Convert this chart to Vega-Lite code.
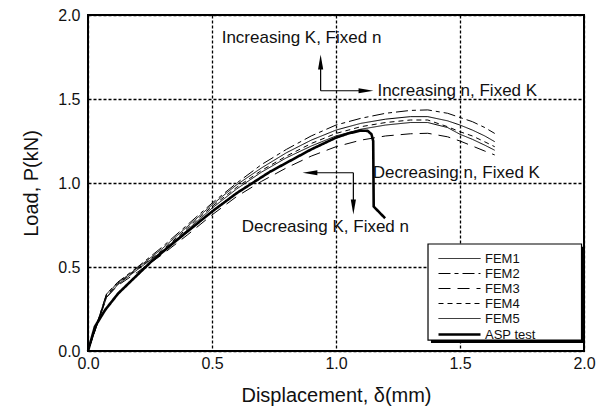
{
  "$schema": "https://vega.github.io/schema/vega-lite/v6.json",
  "width": 496,
  "height": 336,
  "autosize": "none",
  "padding": {"left": 88, "top": 15, "right": 21, "bottom": 66},
  "background": "white",
  "datasets": {
    "curves": [
      {"series": "FEM2", "i": 0, "x": 0, "y": 0},
      {"series": "FEM2", "i": 1, "x": 0.075, "y": 0.34},
      {"series": "FEM2", "i": 2, "x": 0.12, "y": 0.41},
      {"series": "FEM2", "i": 3, "x": 0.2, "y": 0.5},
      {"series": "FEM2", "i": 4, "x": 0.3, "y": 0.62},
      {"series": "FEM2", "i": 5, "x": 0.4, "y": 0.75},
      {"series": "FEM2", "i": 6, "x": 0.5, "y": 0.88},
      {"series": "FEM2", "i": 7, "x": 0.6, "y": 1.0},
      {"series": "FEM2", "i": 8, "x": 0.7, "y": 1.11},
      {"series": "FEM2", "i": 9, "x": 0.8, "y": 1.2},
      {"series": "FEM2", "i": 10, "x": 0.9, "y": 1.28},
      {"series": "FEM2", "i": 11, "x": 1.0, "y": 1.345},
      {"series": "FEM2", "i": 12, "x": 1.1, "y": 1.385},
      {"series": "FEM2", "i": 13, "x": 1.2, "y": 1.415},
      {"series": "FEM2", "i": 14, "x": 1.3, "y": 1.432},
      {"series": "FEM2", "i": 15, "x": 1.37, "y": 1.435},
      {"series": "FEM2", "i": 16, "x": 1.45, "y": 1.415},
      {"series": "FEM2", "i": 17, "x": 1.5, "y": 1.39},
      {"series": "FEM2", "i": 18, "x": 1.55, "y": 1.365},
      {"series": "FEM2", "i": 19, "x": 1.6, "y": 1.33},
      {"series": "FEM2", "i": 20, "x": 1.64, "y": 1.295},

      {"series": "FEM1", "i": 0, "x": 0, "y": 0},
      {"series": "FEM1", "i": 1, "x": 0.075, "y": 0.34},
      {"series": "FEM1", "i": 2, "x": 0.12, "y": 0.405},
      {"series": "FEM1", "i": 3, "x": 0.2, "y": 0.495},
      {"series": "FEM1", "i": 4, "x": 0.3, "y": 0.61},
      {"series": "FEM1", "i": 5, "x": 0.4, "y": 0.74},
      {"series": "FEM1", "i": 6, "x": 0.5, "y": 0.87},
      {"series": "FEM1", "i": 7, "x": 0.6, "y": 0.99},
      {"series": "FEM1", "i": 8, "x": 0.7, "y": 1.09},
      {"series": "FEM1", "i": 9, "x": 0.8, "y": 1.18},
      {"series": "FEM1", "i": 10, "x": 0.9, "y": 1.255},
      {"series": "FEM1", "i": 11, "x": 1.0, "y": 1.315},
      {"series": "FEM1", "i": 12, "x": 1.1, "y": 1.355},
      {"series": "FEM1", "i": 13, "x": 1.2, "y": 1.38},
      {"series": "FEM1", "i": 14, "x": 1.3, "y": 1.395},
      {"series": "FEM1", "i": 15, "x": 1.37, "y": 1.395},
      {"series": "FEM1", "i": 16, "x": 1.45, "y": 1.37},
      {"series": "FEM1", "i": 17, "x": 1.5, "y": 1.345},
      {"series": "FEM1", "i": 18, "x": 1.55, "y": 1.315},
      {"series": "FEM1", "i": 19, "x": 1.6, "y": 1.28},
      {"series": "FEM1", "i": 20, "x": 1.64, "y": 1.246},

      {"series": "FEM4", "i": 0, "x": 0, "y": 0},
      {"series": "FEM4", "i": 1, "x": 0.075, "y": 0.33},
      {"series": "FEM4", "i": 2, "x": 0.12, "y": 0.4},
      {"series": "FEM4", "i": 3, "x": 0.2, "y": 0.49},
      {"series": "FEM4", "i": 4, "x": 0.3, "y": 0.6},
      {"series": "FEM4", "i": 5, "x": 0.4, "y": 0.73},
      {"series": "FEM4", "i": 6, "x": 0.5, "y": 0.86},
      {"series": "FEM4", "i": 7, "x": 0.6, "y": 0.975},
      {"series": "FEM4", "i": 8, "x": 0.7, "y": 1.075},
      {"series": "FEM4", "i": 9, "x": 0.8, "y": 1.16},
      {"series": "FEM4", "i": 10, "x": 0.9, "y": 1.235},
      {"series": "FEM4", "i": 11, "x": 1.0, "y": 1.295},
      {"series": "FEM4", "i": 12, "x": 1.1, "y": 1.335},
      {"series": "FEM4", "i": 13, "x": 1.2, "y": 1.36},
      {"series": "FEM4", "i": 14, "x": 1.3, "y": 1.375},
      {"series": "FEM4", "i": 15, "x": 1.37, "y": 1.375},
      {"series": "FEM4", "i": 16, "x": 1.45, "y": 1.335},
      {"series": "FEM4", "i": 17, "x": 1.5, "y": 1.305},
      {"series": "FEM4", "i": 18, "x": 1.55, "y": 1.28},
      {"series": "FEM4", "i": 19, "x": 1.6, "y": 1.245},
      {"series": "FEM4", "i": 20, "x": 1.64, "y": 1.216},

      {"series": "FEM5", "i": 0, "x": 0, "y": 0},
      {"series": "FEM5", "i": 1, "x": 0.075, "y": 0.32},
      {"series": "FEM5", "i": 2, "x": 0.12, "y": 0.395},
      {"series": "FEM5", "i": 3, "x": 0.2, "y": 0.485},
      {"series": "FEM5", "i": 4, "x": 0.3, "y": 0.595},
      {"series": "FEM5", "i": 5, "x": 0.4, "y": 0.72},
      {"series": "FEM5", "i": 6, "x": 0.5, "y": 0.85},
      {"series": "FEM5", "i": 7, "x": 0.6, "y": 0.965},
      {"series": "FEM5", "i": 8, "x": 0.7, "y": 1.065},
      {"series": "FEM5", "i": 9, "x": 0.8, "y": 1.15},
      {"series": "FEM5", "i": 10, "x": 0.9, "y": 1.22},
      {"series": "FEM5", "i": 11, "x": 1.0, "y": 1.28},
      {"series": "FEM5", "i": 12, "x": 1.1, "y": 1.32},
      {"series": "FEM5", "i": 13, "x": 1.2, "y": 1.345},
      {"series": "FEM5", "i": 14, "x": 1.3, "y": 1.36},
      {"series": "FEM5", "i": 15, "x": 1.37, "y": 1.36},
      {"series": "FEM5", "i": 16, "x": 1.45, "y": 1.33},
      {"series": "FEM5", "i": 17, "x": 1.5, "y": 1.29},
      {"series": "FEM5", "i": 18, "x": 1.55, "y": 1.26},
      {"series": "FEM5", "i": 19, "x": 1.6, "y": 1.225},
      {"series": "FEM5", "i": 20, "x": 1.64, "y": 1.195},

      {"series": "FEM3", "i": 0, "x": 0, "y": 0},
      {"series": "FEM3", "i": 1, "x": 0.075, "y": 0.32},
      {"series": "FEM3", "i": 2, "x": 0.12, "y": 0.39},
      {"series": "FEM3", "i": 3, "x": 0.2, "y": 0.47},
      {"series": "FEM3", "i": 4, "x": 0.3, "y": 0.575},
      {"series": "FEM3", "i": 5, "x": 0.4, "y": 0.69},
      {"series": "FEM3", "i": 6, "x": 0.5, "y": 0.81},
      {"series": "FEM3", "i": 7, "x": 0.6, "y": 0.92},
      {"series": "FEM3", "i": 8, "x": 0.7, "y": 1.01},
      {"series": "FEM3", "i": 9, "x": 0.8, "y": 1.09},
      {"series": "FEM3", "i": 10, "x": 0.9, "y": 1.16},
      {"series": "FEM3", "i": 11, "x": 1.0, "y": 1.216},
      {"series": "FEM3", "i": 12, "x": 1.1, "y": 1.255},
      {"series": "FEM3", "i": 13, "x": 1.2, "y": 1.28},
      {"series": "FEM3", "i": 14, "x": 1.3, "y": 1.293},
      {"series": "FEM3", "i": 15, "x": 1.37, "y": 1.296},
      {"series": "FEM3", "i": 16, "x": 1.45, "y": 1.275},
      {"series": "FEM3", "i": 17, "x": 1.5, "y": 1.25},
      {"series": "FEM3", "i": 18, "x": 1.55, "y": 1.22},
      {"series": "FEM3", "i": 19, "x": 1.6, "y": 1.19},
      {"series": "FEM3", "i": 20, "x": 1.64, "y": 1.167},

      {"series": "ASP test", "i": 0, "x": 0, "y": 0},
      {"series": "ASP test", "i": 1, "x": 0.028, "y": 0.145},
      {"series": "ASP test", "i": 2, "x": 0.069, "y": 0.244},
      {"series": "ASP test", "i": 3, "x": 0.122, "y": 0.343},
      {"series": "ASP test", "i": 4, "x": 0.19, "y": 0.44},
      {"series": "ASP test", "i": 5, "x": 0.257, "y": 0.535},
      {"series": "ASP test", "i": 6, "x": 0.35, "y": 0.65},
      {"series": "ASP test", "i": 7, "x": 0.5, "y": 0.83},
      {"series": "ASP test", "i": 8, "x": 0.6, "y": 0.94},
      {"series": "ASP test", "i": 9, "x": 0.734, "y": 1.067},
      {"series": "ASP test", "i": 10, "x": 0.8, "y": 1.12},
      {"series": "ASP test", "i": 11, "x": 0.9, "y": 1.2},
      {"series": "ASP test", "i": 12, "x": 1.0, "y": 1.27},
      {"series": "ASP test", "i": 13, "x": 1.05, "y": 1.295},
      {"series": "ASP test", "i": 14, "x": 1.1, "y": 1.312},
      {"series": "ASP test", "i": 15, "x": 1.128, "y": 1.31},
      {"series": "ASP test", "i": 16, "x": 1.143, "y": 1.29},
      {"series": "ASP test", "i": 17, "x": 1.15, "y": 1.25},
      {"series": "ASP test", "i": 18, "x": 1.152, "y": 0.86},
      {"series": "ASP test", "i": 19, "x": 1.198, "y": 0.79}
    ],
    "arrows": [
      {"x": 0.938, "y": 1.549, "x2": 0.938, "y2": 1.7},
      {"x": 0.938, "y": 1.549, "x2": 1.11, "y2": 1.549},
      {"x": 1.07, "y": 1.061, "x2": 0.9, "y2": 1.061},
      {"x": 1.07, "y": 1.061, "x2": 1.07, "y2": 0.87}
    ],
    "heads": [
      {"x": 0.938, "y": 1.72, "dir": "up"},
      {"x": 1.121, "y": 1.549, "dir": "right"},
      {"x": 0.895, "y": 1.061, "dir": "left"},
      {"x": 1.07, "y": 0.857, "dir": "down"}
    ],
    "notes": [
      {"x": 0.539, "y": 1.861, "label": "Increasing K, Fixed n"},
      {"x": 1.167, "y": 1.549, "label": "Increasing n, Fixed K"},
      {"x": 1.148, "y": 1.061, "label": "Decreasing n, Fixed K"},
      {"x": 0.62, "y": 0.74, "label": "Decreasing K, Fixed n"}
    ],
    "legendbox": [
      {"kind": "shadow", "x": 1.383, "x2": 2.0, "y": 0.047, "y2": 0.62},
      {"kind": "box", "x": 1.371, "x2": 1.99, "y": 0.065, "y2": 0.637}
    ]
  },
  "layer": [
    {
      "data": {"name": "curves"},
      "mark": {"type": "line", "color": "black", "strokeCap": "butt"},
      "encoding": {
        "x": {"field": "x", "type": "quantitative", "scale": {"domain": [0, 2]},
          "axis": {"title": "Displacement, δ(mm)", "values": [0, 0.5, 1, 1.5, 2], "format": ".1f"}},
        "y": {"field": "y", "type": "quantitative", "scale": {"domain": [0, 2]},
          "axis": {"title": "Load, P(kN)", "values": [0, 0.5, 1, 1.5, 2], "format": ".1f"}},
        "order": {"field": "i", "type": "quantitative"},
        "strokeDash": {"field": "series", "type": "nominal",
          "scale": {"domain": ["FEM1", "FEM2", "FEM3", "FEM4", "FEM5", "ASP test"],
                    "range": [[1, 0], [12, 4, 4, 4], [12, 7], [5, 4], [1, 0], [1, 0]]},
          "legend": {"title": null}},
        "strokeWidth": {"field": "series", "type": "nominal",
          "scale": {"type": "ordinal", "domain": ["FEM1", "FEM2", "FEM3", "FEM4", "FEM5", "ASP test"],
                    "range": [1, 1, 1, 1, 1, 2.6]},
          "legend": {"title": null}}
      }
    },
    {
      "data": {"name": "arrows"},
      "mark": {"type": "rule", "color": "black", "strokeWidth": 1.2},
      "encoding": {
        "x": {"field": "x", "type": "quantitative"},
        "y": {"field": "y", "type": "quantitative"},
        "x2": {"field": "x2"},
        "y2": {"field": "y2"}
      }
    },
    {
      "data": {"name": "heads"},
      "mark": {"type": "point", "filled": true, "color": "black", "opacity": 1, "size": 220},
      "encoding": {
        "x": {"field": "x", "type": "quantitative"},
        "y": {"field": "y", "type": "quantitative"},
        "shape": {"field": "dir", "type": "nominal", "legend": null,
          "scale": {"domain": ["up", "right", "left", "down"],
                    "range": ["M0,-1L0.35,1L-0.35,1Z", "M1,0L-1,0.35L-1,-0.35Z", "M-1,0L1,0.35L1,-0.35Z", "M0,1L0.35,-1L-0.35,-1Z"]}}
      }
    },
    {
      "data": {"name": "notes"},
      "mark": {"type": "text", "align": "left", "baseline": "middle", "font": "Liberation Sans", "fontSize": 17, "color": "#111"},
      "encoding": {
        "x": {"field": "x", "type": "quantitative"},
        "y": {"field": "y", "type": "quantitative"},
        "text": {"field": "label"}
      }
    },
    {
      "data": {"name": "legendbox"},
      "transform": [{"filter": "datum.kind === 'shadow'"}],
      "mark": {"type": "rect", "color": "black"},
      "encoding": {
        "x": {"field": "x", "type": "quantitative"},
        "x2": {"field": "x2"},
        "y": {"field": "y", "type": "quantitative"},
        "y2": {"field": "y2"}
      }
    },
    {
      "data": {"name": "legendbox"},
      "transform": [{"filter": "datum.kind === 'box'"}],
      "mark": {"type": "rect", "fill": "white", "stroke": "black", "strokeWidth": 1.2},
      "encoding": {
        "x": {"field": "x", "type": "quantitative"},
        "x2": {"field": "x2"},
        "y": {"field": "y", "type": "quantitative"},
        "y2": {"field": "y2"}
      }
    }
  ],
  "config": {
    "view": {"stroke": "black", "strokeWidth": 2},
    "axis": {
      "domain": false,
      "ticks": false,
      "grid": true,
      "gridColor": "black",
      "gridDash": [3, 2],
      "gridWidth": 1.3,
      "gridOpacity": 1,
      "labelFont": "Liberation Sans",
      "labelFontSize": 16,
      "labelColor": "#111",
      "labelFlush": false,
      "titleFont": "Liberation Sans",
      "titleFontSize": 20,
      "titleFontWeight": "normal",
      "titleColor": "#111"
    },
    "axisX": {"labelPadding": 4, "titlePadding": 14},
    "axisY": {"labelPadding": 8, "titlePadding": 16},
    "legend": {
      "orient": "none",
      "legendX": 349,
      "legendY": 236,
      "padding": 0,
      "symbolType": "M-1,0H5",
      "symbolStrokeColor": "black",
      "symbolSize": 196,
      "rowPadding": 0,
      "labelFont": "Liberation Sans",
      "labelFontSize": 13,
      "labelColor": "#111",
      "labelOffset": 31
    }
  }
}
